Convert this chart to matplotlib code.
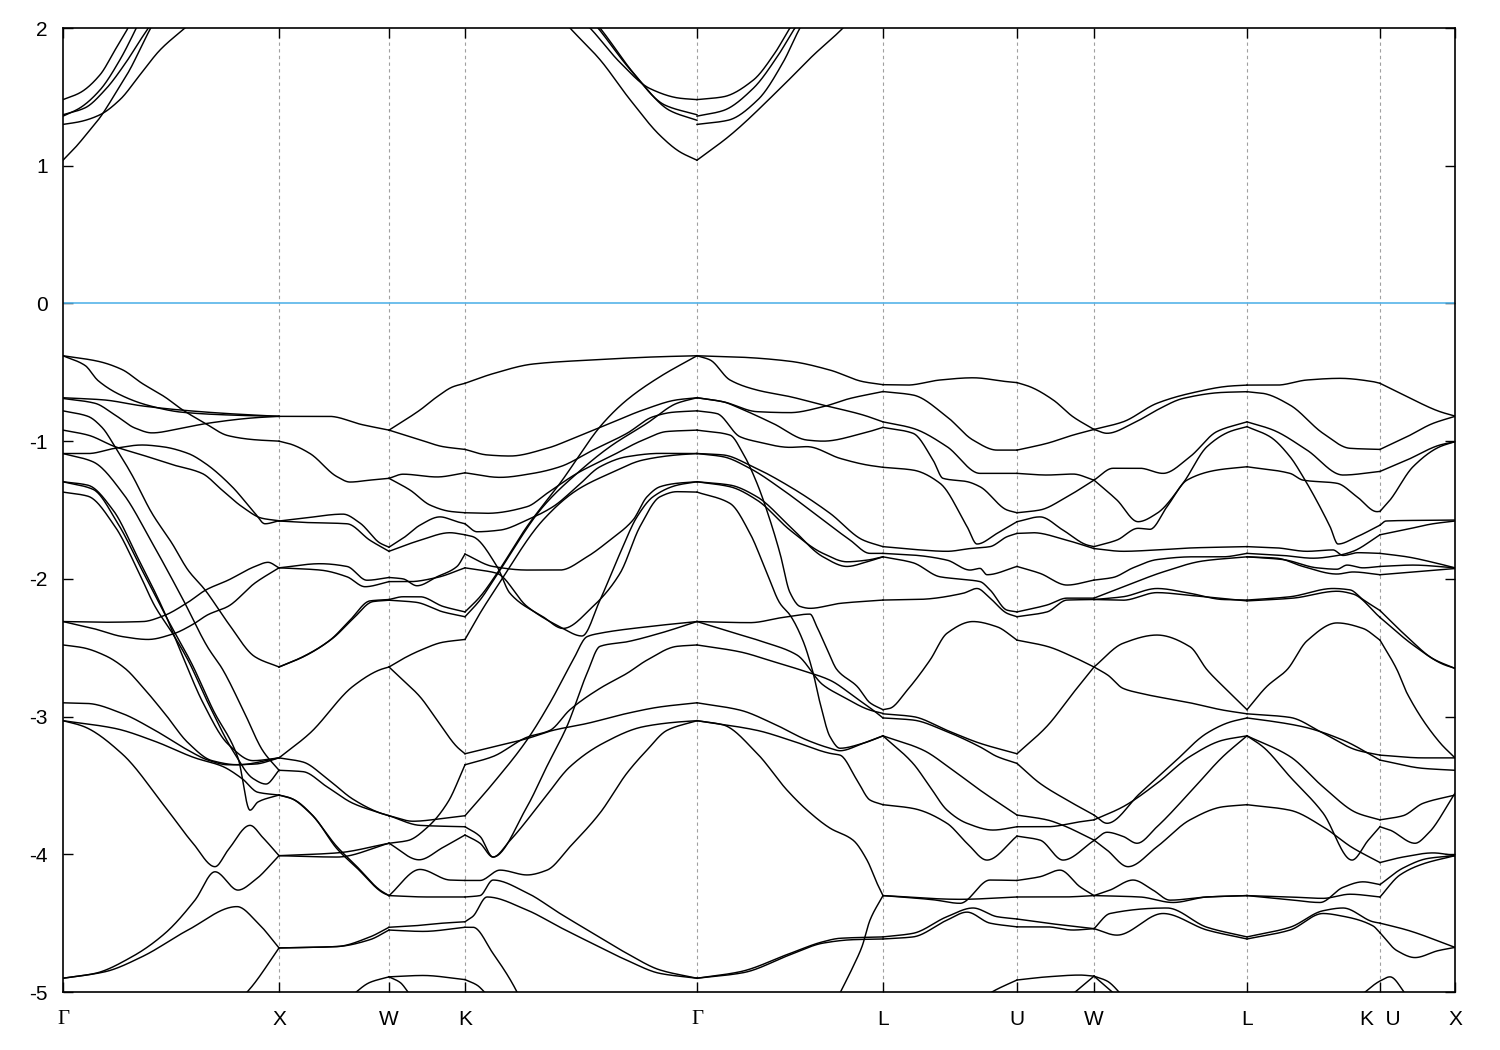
import numpy as np
import matplotlib
matplotlib.use('agg')
import matplotlib.pyplot as plt

# path positions of the high-symmetry points (arbitrary path units)
kpts = [0, 216, 326, 402, 634, 820, 954, 1031, 1184, 1317, 1392]
klabels = ['Γ', 'X', 'W', 'K', 'Γ', 'L', 'U', 'W', 'L', 'K  U', 'X']

# conduction bands (eV), nodes (k, E)
cond = [
    [(0, 1.04), (12, 1.13), (27, 1.26), (37, 1.35), (52, 1.52), (67, 1.70), (82, 1.92), (95, 2.1)],
    [(0, 1.30), (17, 1.32), (37, 1.37), (57, 1.48), (77, 1.66), (97, 1.84), (122, 2.0), (135, 2.08)],
    [(0, 1.36), (17, 1.42), (37, 1.55), (57, 1.77), (72, 1.98), (80, 2.1)],
    [(0, 1.37), (22, 1.42), (42, 1.55), (62, 1.74), (78, 1.92), (90, 2.05)],
    [(0, 1.48), (17, 1.53), (37, 1.66), (52, 1.84), (65, 2.0), (72, 2.1)],
    [(495, 2.1), (507, 2.0), (537, 1.77), (567, 1.48), (597, 1.22), (617, 1.10), (634, 1.04)],
    [(520, 2.05), (527, 2.0), (557, 1.75), (587, 1.56), (617, 1.49), (634, 1.48)],
    [(528, 2.06), (535, 2.0), (567, 1.70), (602, 1.44), (634, 1.37)],
    [(530, 2.06), (537, 2.0), (572, 1.66), (607, 1.40), (634, 1.33)],
    [(634, 1.04), (667, 1.22), (717, 1.56), (750, 1.80), (780, 2.0), (790, 2.08)],
    [(634, 1.30), (665, 1.33), (695, 1.48), (720, 1.75), (737, 2.0), (742, 2.06)],
    [(634, 1.36), (660, 1.40), (690, 1.56), (715, 1.80), (732, 2.0), (738, 2.06)],
    [(634, 1.48), (660, 1.50), (690, 1.62), (712, 1.82), (727, 2.0), (733, 2.06)],
]

# valence bands per path segment (eV), nodes (k, E)
gx = [
    [(0, -0.38), (35, -0.42), (59, -0.48), (79, -0.58), (102, -0.68), (119, -0.77), (142, -0.87), (165, -0.96), (192, -0.99), (216, -1.00)],
    [(0, -0.38), (22, -0.45), (35, -0.56), (59, -0.67), (85, -0.74), (119, -0.79), (165, -0.81), (216, -0.82)],
    [(0, -0.685), (40, -0.70), (80, -0.745), (119, -0.775), (165, -0.80), (216, -0.82)],
    [(0, -0.69), (32, -0.725), (52, -0.81), (72, -0.905), (89, -0.94), (119, -0.905), (145, -0.87), (192, -0.83), (216, -0.82)],
    [(0, -0.92), (25, -0.956), (52, -1.04), (79, -1.10), (109, -1.17), (139, -1.234), (159, -1.355), (179, -1.476), (199, -1.56), (216, -1.578)],
    [(0, -1.09), (25, -1.09), (52, -1.052), (79, -1.028), (99, -1.04), (125, -1.089), (142, -1.16), (169, -1.33), (192, -1.524), (202, -1.60), (216, -1.578)],
    [(0, -0.78), (25, -0.82), (39, -0.90), (52, -1.04), (69, -1.246), (89, -1.524), (109, -1.742), (125, -1.936), (142, -2.08), (165, -2.32), (192, -2.566), (216, -2.64)],
    [(0, -1.09), (30, -1.15), (60, -1.38), (90, -1.75), (120, -2.15), (145, -2.50), (159, -2.65), (180, -2.95), (200, -3.25), (216, -3.39)],
    [(0, -1.295), (30, -1.35), (55, -1.60), (80, -1.95), (105, -2.30), (129, -2.62), (150, -2.95), (175, -3.30), (187, -3.68), (195, -3.62), (216, -3.57)],
    [(0, -1.295), (25, -1.32), (50, -1.50), (75, -1.85), (100, -2.22), (119, -2.55), (140, -2.90), (165, -3.20), (190, -3.32), (216, -3.30)],
    [(0, -1.37), (25, -1.40), (52, -1.62), (75, -1.94), (92, -2.20), (109, -2.39), (125, -2.59), (145, -2.90), (170, -3.25), (190, -3.45), (203, -3.49), (216, -3.39)],
    [(0, -2.31), (40, -2.315), (80, -2.31), (100, -2.27), (125, -2.17), (143, -2.08), (165, -2.01), (192, -1.91), (205, -1.88), (216, -1.92)],
    [(0, -2.31), (30, -2.36), (60, -2.42), (85, -2.44), (110, -2.40), (130, -2.33), (145, -2.26), (165, -2.20), (192, -2.03), (216, -1.92)],
    [(0, -2.48), (20, -2.50), (43, -2.56), (62, -2.65), (79, -2.78), (102, -2.98), (125, -3.19), (149, -3.32), (175, -3.35), (216, -3.30)],
    [(0, -2.90), (25, -2.905), (59, -2.977), (92, -3.10), (125, -3.244), (145, -3.316), (165, -3.35), (192, -3.345), (216, -3.30)],
    [(0, -3.03), (52, -3.086), (92, -3.18), (132, -3.30), (159, -3.36), (179, -3.45), (195, -3.55), (216, -3.57)],
    [(0, -3.03), (20, -3.07), (59, -3.27), (102, -3.655), (130, -3.92), (152, -4.09), (165, -3.97), (187, -3.79), (200, -3.88), (216, -4.01)],
    [(0, -4.90), (32, -4.865), (69, -4.744), (102, -4.574), (132, -4.333), (152, -4.127), (175, -4.26), (192, -4.187), (216, -4.01)],
    [(0, -4.90), (42, -4.853), (79, -4.744), (125, -4.55), (174, -4.38), (195, -4.50), (216, -4.68)],
    [(178, -5.05), (190, -4.95), (216, -4.68)],
]

xw = [
    [(216, -0.82), (266, -0.82), (299, -0.88), (326, -0.92)],
    [(216, -1.00), (227, -1.02), (247, -1.09), (274, -1.258), (287, -1.297), (307, -1.283), (326, -1.27)],
    [(216, -1.58), (240, -1.56), (280, -1.53), (297, -1.595), (317, -1.74), (326, -1.77)],
    [(216, -1.58), (240, -1.59), (284, -1.60), (307, -1.72), (326, -1.80)],
    [(216, -1.92), (257, -1.89), (284, -1.91), (304, -2.01), (326, -1.99)],
    [(216, -1.92), (257, -1.936), (284, -1.985), (302, -2.057), (326, -2.02)],
    [(216, -2.64), (240, -2.565), (267, -2.445), (287, -2.30), (307, -2.16), (326, -2.15)],
    [(216, -2.64), (242, -2.56), (270, -2.43), (290, -2.29), (310, -2.165), (326, -2.155)],
    [(216, -3.30), (247, -3.12), (290, -2.78), (317, -2.66), (326, -2.64)],
    [(216, -3.39), (240, -3.40), (264, -3.51), (290, -3.63), (317, -3.70), (326, -3.72)],
    [(216, -3.30), (240, -3.33), (264, -3.45), (290, -3.60), (317, -3.70), (326, -3.72)],
    [(216, -3.57), (227, -3.59), (247, -3.70), (274, -3.945), (294, -4.09), (317, -4.26), (326, -4.30)],
    [(216, -3.57), (230, -3.60), (250, -3.72), (274, -3.96), (294, -4.10), (320, -4.28), (326, -4.30)],
    [(216, -4.01), (274, -3.99), (326, -3.92)],
    [(216, -4.01), (274, -4.02), (326, -3.92)],
    [(216, -4.68), (274, -4.67), (307, -4.60), (326, -4.53)],
    [(216, -4.68), (274, -4.67), (307, -4.62), (326, -4.55)],
    [(285, -5.05), (307, -4.93), (326, -4.89)],
]

wk = [
    [(326, -0.92), (357, -0.774), (374, -0.678), (390, -0.605), (402, -0.58)],
    [(326, -0.92), (357, -0.99), (380, -1.04), (402, -1.06)],
    [(326, -1.27), (340, -1.24), (374, -1.26), (402, -1.23)],
    [(326, -1.27), (347, -1.355), (367, -1.464), (387, -1.51), (402, -1.52)],
    [(326, -1.77), (341, -1.70), (357, -1.61), (377, -1.55), (394, -1.585), (402, -1.60)],
    [(326, -1.80), (357, -1.72), (387, -1.665), (402, -1.68)],
    [(326, -1.99), (340, -2.00), (354, -2.05), (374, -1.985), (394, -1.91), (402, -1.82)],
    [(326, -2.02), (347, -2.02), (374, -1.99), (402, -1.92)],
    [(326, -2.15), (340, -2.13), (357, -2.13), (380, -2.20), (402, -2.24)],
    [(326, -2.155), (353, -2.17), (380, -2.24), (402, -2.275)],
    [(326, -2.64), (340, -2.58), (357, -2.52), (380, -2.46), (402, -2.44)],
    [(326, -2.64), (340, -2.735), (357, -2.856), (374, -3.025), (394, -3.22), (402, -3.27)],
    [(326, -3.72), (357, -3.79), (402, -3.80)],
    [(326, -3.72), (350, -3.76), (380, -3.74), (402, -3.72)],
    [(326, -3.92), (356, -4.04), (380, -3.95), (402, -3.86)],
    [(326, -3.92), (345, -3.90), (365, -3.80), (385, -3.62), (402, -3.35)],
    [(326, -4.30), (357, -4.11), (387, -4.187), (402, -4.19)],
    [(326, -4.30), (364, -4.31), (402, -4.31)],
    [(326, -4.53), (350, -4.52), (380, -4.50), (402, -4.49)],
    [(326, -4.55), (360, -4.56), (402, -4.53)],
    [(326, -4.89), (360, -4.88), (402, -4.91)],
    [(326, -4.89), (337, -4.93), (347, -5.02)],
]

kg = [
    [(402, -0.58), (430, -0.51), (470, -0.44), (530, -0.41), (597, -0.387), (634, -0.38)],
    [(402, -1.06), (424, -1.10), (447, -1.108), (484, -1.052), (514, -0.968), (547, -0.871), (580, -0.774), (614, -0.70), (634, -0.685)],
    [(402, -1.23), (437, -1.263), (470, -1.234), (497, -1.186), (530, -1.065), (564, -0.943), (590, -0.823), (610, -0.79), (634, -0.78)],
    [(402, -1.52), (424, -1.524), (464, -1.476), (484, -1.379), (514, -1.234), (547, -1.113), (580, -0.992), (604, -0.93), (634, -0.92)],
    [(402, -1.60), (414, -1.658), (437, -1.646), (464, -1.573), (490, -1.476), (514, -1.331), (537, -1.186), (564, -1.113), (597, -1.089), (634, -1.09)],
    [(402, -1.82), (430, -1.91), (464, -1.936), (497, -1.936), (524, -1.84), (547, -1.718), (570, -1.573), (584, -1.404), (597, -1.331), (614, -1.306), (634, -1.295)],
    [(402, -2.24), (417, -2.13), (434, -1.96), (464, -1.62), (497, -1.306), (540, -0.87), (564, -0.70), (597, -0.532), (634, -0.38)],
    [(402, -2.275), (417, -2.154), (434, -1.97), (480, -1.476), (514, -1.234), (547, -1.04), (584, -0.87), (614, -0.725), (634, -0.685)],
    [(402, -2.44), (417, -2.25), (434, -2.057), (480, -1.573), (514, -1.355), (547, -1.234), (580, -1.137), (614, -1.10), (634, -1.09)],
    [(402, -1.68), (410, -1.694), (434, -1.91), (447, -2.105), (480, -2.275), (500, -2.36), (530, -2.20), (557, -1.96), (577, -1.62), (597, -1.404), (614, -1.367), (634, -1.37)],
    [(402, -1.92), (417, -1.936), (434, -1.96), (464, -2.20), (497, -2.348), (519, -2.415), (537, -2.154), (557, -1.815), (574, -1.55), (590, -1.404), (614, -1.32), (634, -1.295)],
    [(402, -3.72), (430, -3.485), (464, -3.17), (487, -2.90), (510, -2.59), (524, -2.42), (537, -2.395), (584, -2.348), (634, -2.31)],
    [(402, -3.80), (417, -3.87), (430, -4.02), (464, -3.655), (484, -3.36), (504, -3.07), (524, -2.686), (537, -2.49), (564, -2.457), (597, -2.395), (634, -2.31)],
    [(402, -3.86), (417, -3.92), (430, -4.02), (447, -3.90), (480, -3.606), (507, -3.364), (540, -3.194), (580, -3.074), (614, -3.04), (634, -3.03)],
    [(402, -4.19), (417, -4.19), (437, -4.115), (464, -4.15), (484, -4.115), (507, -3.945), (537, -3.70), (564, -3.41), (584, -3.243), (604, -3.10), (634, -3.03)],
    [(402, -4.31), (417, -4.30), (430, -4.187), (464, -4.28), (497, -4.43), (530, -4.574), (564, -4.72), (597, -4.84), (634, -4.90)],
    [(402, -4.49), (410, -4.45), (424, -4.31), (464, -4.405), (497, -4.53), (530, -4.65), (564, -4.77), (597, -4.865), (634, -4.90)],
    [(402, -4.53), (410, -4.53), (430, -4.72), (454, -5.0), (460, -5.1)],
    [(402, -4.91), (414, -4.95), (424, -5.02)],
    [(402, -3.27), (430, -3.22), (464, -3.16), (490, -3.10), (524, -3.05), (564, -2.977), (597, -2.93), (634, -2.90)],
    [(402, -3.35), (430, -3.29), (464, -3.15), (487, -3.10), (507, -2.95), (537, -2.795), (564, -2.686), (584, -2.59), (614, -2.49), (634, -2.48)],
]

gl = [
    [(634, -0.38), (677, -0.39), (727, -0.42), (767, -0.484), (800, -0.568), (820, -0.59)],
    [(634, -0.38), (647, -0.41), (667, -0.556), (694, -0.629), (727, -0.677), (760, -0.738), (800, -0.81), (820, -0.86)],
    [(634, -0.685), (660, -0.714), (694, -0.786), (727, -0.793), (760, -0.75), (787, -0.69), (820, -0.64)],
    [(634, -0.685), (660, -0.714), (677, -0.762), (710, -0.871), (744, -0.992), (760, -1.00), (800, -0.943), (820, -0.90)],
    [(634, -0.78), (654, -0.80), (677, -0.968), (694, -1.004), (727, -1.045), (744, -1.04), (777, -1.125), (804, -1.173), (820, -1.19)],
    [(634, -1.09), (660, -1.10), (690, -1.186), (727, -1.331), (767, -1.524), (800, -1.718), (820, -1.766)],
    [(634, -1.09), (660, -1.113), (687, -1.198), (720, -1.355), (760, -1.573), (787, -1.718), (807, -1.815), (820, -1.815)],
    [(634, -1.295), (667, -1.331), (694, -1.428), (727, -1.646), (760, -1.815), (784, -1.876), (804, -1.864), (820, -1.84)],
    [(634, -1.295), (667, -1.319), (694, -1.404), (727, -1.62), (760, -1.84), (784, -1.91), (804, -1.876), (820, -1.84)],
    [(634, -0.92), (667, -0.956), (680, -1.089), (694, -1.306), (707, -1.573), (717, -1.815), (727, -2.10), (737, -2.20), (747, -2.214), (777, -2.178), (820, -2.154)],
    [(634, -1.37), (667, -1.452), (687, -1.67), (704, -1.96), (717, -2.178), (727, -2.263), (740, -2.45), (750, -2.68), (757, -2.90), (767, -3.146), (777, -3.23), (800, -3.194), (820, -3.14)],
    [(634, -2.31), (687, -2.318), (720, -2.28), (747, -2.256), (754, -2.35), (764, -2.51), (774, -2.66), (794, -2.78), (807, -2.90), (820, -2.95)],
    [(634, -2.31), (667, -2.384), (700, -2.457), (734, -2.553), (760, -2.77), (780, -2.856), (807, -2.953), (820, -2.977)],
    [(634, -2.48), (677, -2.53), (710, -2.60), (737, -2.66), (767, -2.736), (794, -2.87), (810, -2.953), (820, -3.01)],
    [(634, -2.90), (677, -2.953), (710, -3.05), (744, -3.171), (767, -3.23), (777, -3.248), (800, -3.194), (820, -3.14)],
    [(634, -3.03), (694, -3.10), (727, -3.171), (767, -3.267), (777, -3.28), (794, -3.461), (807, -3.606), (820, -3.64)],
    [(634, -3.03), (660, -3.06), (694, -3.267), (724, -3.534), (744, -3.679), (767, -3.81), (790, -3.897), (804, -4.042), (814, -4.21), (820, -4.30)],
    [(634, -4.90), (677, -4.853), (727, -4.72), (760, -4.635), (777, -4.61), (820, -4.60)],
    [(634, -4.90), (680, -4.86), (727, -4.73), (760, -4.645), (790, -4.62), (820, -4.615)],
    [(774, -5.05), (790, -4.817), (799, -4.67), (807, -4.478), (820, -4.30)],
]

lu = [
    [(820, -0.59), (844, -0.593), (877, -0.556), (910, -0.54), (944, -0.568), (954, -0.575)],
    [(820, -0.64), (850, -0.665), (884, -0.823), (910, -0.992), (934, -1.065), (954, -1.065)],
    [(820, -0.86), (850, -0.907), (884, -1.04), (917, -1.234), (954, -1.234)],
    [(820, -0.90), (850, -0.943), (870, -1.137), (880, -1.27), (904, -1.294), (917, -1.331), (944, -1.50), (954, -1.52)],
    [(820, -1.19), (850, -1.21), (877, -1.306), (904, -1.62), (914, -1.747), (934, -1.67), (954, -1.585)],
    [(820, -1.766), (850, -1.786), (884, -1.80), (907, -1.78), (927, -1.766), (944, -1.694), (954, -1.67)],
    [(820, -1.815), (850, -1.827), (884, -1.864), (907, -1.936), (917, -1.924), (924, -1.97), (954, -1.91)],
    [(820, -1.84), (850, -1.883), (877, -1.985), (900, -2.004), (917, -2.02), (927, -2.08), (944, -2.227), (954, -2.24)],
    [(820, -2.154), (857, -2.149), (900, -2.105), (914, -2.07), (927, -2.14), (944, -2.25), (954, -2.275)],
    [(820, -2.95), (827, -2.94), (844, -2.81), (867, -2.59), (884, -2.395), (910, -2.31), (934, -2.348), (954, -2.445)],
    [(820, -2.98), (850, -3.00), (884, -3.10), (917, -3.194), (954, -3.27)],
    [(820, -3.01), (850, -3.025), (884, -3.11), (917, -3.22), (934, -3.29), (954, -3.34)],
    [(820, -3.14), (860, -3.243), (890, -3.39), (917, -3.534), (954, -3.715)],
    [(820, -3.14), (850, -3.34), (867, -3.51), (884, -3.679), (904, -3.775), (930, -3.824), (954, -3.80)],
    [(820, -3.64), (850, -3.667), (884, -3.775), (904, -3.92), (924, -4.042), (954, -3.868)],
    [(820, -4.30), (897, -4.327), (954, -4.31)],
    [(820, -4.30), (870, -4.33), (897, -4.356), (927, -4.187), (954, -4.19)],
    [(820, -4.60), (850, -4.574), (884, -4.453), (910, -4.39), (934, -4.453), (954, -4.47)],
    [(820, -4.615), (850, -4.60), (884, -4.478), (904, -4.42), (927, -4.50), (954, -4.527)],
    [(917, -5.05), (934, -4.98), (954, -4.913)],
]

uw = [
    [(954, -0.575), (967, -0.605), (990, -0.70), (1010, -0.823), (1031, -0.915)],
    [(954, -1.065), (984, -1.016), (1010, -0.956), (1031, -0.915)],
    [(954, -1.234), (984, -1.246), (1010, -1.239), (1031, -1.283)],
    [(954, -1.52), (977, -1.50), (1004, -1.404), (1031, -1.283)],
    [(954, -1.585), (977, -1.55), (1000, -1.646), (1024, -1.754), (1031, -1.766)],
    [(954, -1.67), (970, -1.665), (1004, -1.72), (1031, -1.78)],
    [(954, -1.91), (977, -1.96), (1004, -2.045), (1031, -2.009)],
    [(954, -2.24), (984, -2.19), (1004, -2.14), (1031, -2.14)],
    [(954, -2.275), (984, -2.24), (1004, -2.154), (1031, -2.15)],
    [(954, -2.445), (984, -2.49), (1010, -2.566), (1031, -2.64)],
    [(954, -3.27), (984, -3.07), (1010, -2.83), (1031, -2.64)],
    [(954, -3.34), (977, -3.485), (1004, -3.606), (1031, -3.715)],
    [(954, -3.715), (984, -3.75), (1000, -3.79), (1031, -3.897)],
    [(954, -3.80), (984, -3.80), (1017, -3.764), (1031, -3.75)],
    [(954, -3.868), (977, -3.897), (1000, -4.042), (1031, -3.90)],
    [(954, -4.31), (1000, -4.31), (1031, -4.30)],
    [(954, -4.19), (977, -4.163), (997, -4.115), (1017, -4.236), (1031, -4.30)],
    [(954, -4.47), (984, -4.50), (1031, -4.54)],
    [(954, -4.527), (984, -4.527), (1010, -4.55), (1031, -4.54)],
    [(954, -4.913), (984, -4.89), (1017, -4.877), (1031, -4.885)],
    [(1004, -5.05), (1017, -4.97), (1031, -4.885)],
]

wl = [
    [(1031, -0.915), (1060, -0.86), (1094, -0.725), (1127, -0.653), (1167, -0.60), (1184, -0.593)],
    [(1031, -0.915), (1044, -0.943), (1070, -0.871), (1094, -0.774), (1120, -0.69), (1160, -0.646), (1184, -0.641)],
    [(1031, -1.283), (1050, -1.197), (1077, -1.197), (1100, -1.234), (1127, -1.113), (1154, -0.93), (1184, -0.86)],
    [(1031, -1.283), (1054, -1.428), (1075, -1.585), (1094, -1.524), (1120, -1.306), (1144, -1.04), (1167, -0.93), (1184, -0.895)],
    [(1031, -1.766), (1054, -1.718), (1075, -1.633), (1087, -1.64), (1104, -1.476), (1124, -1.283), (1154, -1.21), (1184, -1.186)],
    [(1031, -1.78), (1060, -1.80), (1094, -1.79), (1130, -1.775), (1184, -1.766)],
    [(1031, -2.009), (1050, -1.99), (1070, -1.92), (1094, -1.86), (1130, -1.84), (1160, -1.84), (1184, -1.815)],
    [(1031, -2.14), (1070, -2.03), (1100, -1.95), (1140, -1.87), (1184, -1.84)],
    [(1031, -2.15), (1060, -2.13), (1094, -2.07), (1127, -2.105), (1160, -2.15), (1184, -2.154)],
    [(1031, -2.15), (1060, -2.155), (1094, -2.10), (1127, -2.12), (1184, -2.16)],
    [(1031, -2.64), (1060, -2.468), (1094, -2.408), (1127, -2.493), (1144, -2.66), (1160, -2.78), (1184, -2.95)],
    [(1031, -2.64), (1045, -2.70), (1060, -2.795), (1077, -2.83), (1127, -2.90), (1160, -2.953), (1184, -2.98)],
    [(1031, -3.715), (1044, -3.775), (1077, -3.557), (1110, -3.34), (1144, -3.12), (1167, -3.04), (1184, -3.01)],
    [(1031, -3.75), (1060, -3.655), (1094, -3.485), (1127, -3.29), (1160, -3.171), (1184, -3.14)],
    [(1031, -3.90), (1044, -3.84), (1060, -3.87), (1074, -3.92), (1094, -3.80), (1127, -3.55), (1160, -3.29), (1184, -3.14)],
    [(1031, -3.897), (1044, -3.969), (1065, -4.09), (1094, -3.945), (1127, -3.75), (1160, -3.655), (1184, -3.64)],
    [(1031, -4.30), (1047, -4.26), (1070, -4.187), (1090, -4.26), (1107, -4.333), (1144, -4.31), (1184, -4.30)],
    [(1031, -4.30), (1077, -4.31), (1110, -4.35), (1144, -4.31), (1184, -4.30)],
    [(1031, -4.54), (1047, -4.43), (1104, -4.39), (1144, -4.53), (1184, -4.60)],
    [(1031, -4.54), (1054, -4.587), (1100, -4.43), (1144, -4.55), (1184, -4.615)],
    [(1031, -4.885), (1044, -4.92), (1060, -5.03)],
    [(1031, -4.885), (1054, -5.03)],
]

lk = [
    [(1184, -0.593), (1214, -0.593), (1244, -0.556), (1277, -0.544), (1310, -0.568), (1317, -0.58)],
    [(1184, -0.641), (1200, -0.653), (1227, -0.738), (1260, -0.943), (1287, -1.052), (1317, -1.06)],
    [(1184, -0.86), (1210, -0.919), (1244, -1.065), (1280, -1.246), (1317, -1.22)],
    [(1184, -0.895), (1207, -0.968), (1227, -1.113), (1240, -1.258), (1267, -1.62), (1275, -1.747), (1294, -1.694), (1317, -1.61)],
    [(1184, -1.186), (1227, -1.234), (1240, -1.283), (1274, -1.306), (1294, -1.404), (1314, -1.512), (1317, -1.51)],
    [(1184, -1.766), (1214, -1.775), (1244, -1.80), (1270, -1.79), (1280, -1.83), (1295, -1.81), (1317, -1.815)],
    [(1184, -1.815), (1220, -1.83), (1250, -1.85), (1275, -1.83), (1290, -1.80), (1317, -1.68)],
    [(1184, -1.84), (1220, -1.86), (1254, -1.92), (1274, -1.93), (1284, -1.90), (1300, -1.92), (1317, -1.91)],
    [(1184, -1.84), (1214, -1.85), (1240, -1.91), (1274, -1.965), (1290, -1.95), (1317, -1.97)],
    [(1184, -2.154), (1227, -2.13), (1270, -2.07), (1287, -2.08), (1300, -2.15), (1317, -2.23)],
    [(1184, -2.16), (1230, -2.14), (1274, -2.09), (1290, -2.11), (1317, -2.28)],
    [(1184, -2.95), (1204, -2.78), (1224, -2.66), (1244, -2.45), (1274, -2.32), (1300, -2.36), (1317, -2.445)],
    [(1184, -2.98), (1227, -3.006), (1260, -3.12), (1294, -3.244), (1317, -3.28)],
    [(1184, -3.01), (1200, -3.025), (1240, -3.074), (1280, -3.171), (1317, -3.316)],
    [(1184, -3.14), (1200, -3.22), (1227, -3.437), (1260, -3.70), (1289, -4.042), (1305, -3.90), (1317, -3.80)],
    [(1184, -3.14), (1227, -3.29), (1260, -3.51), (1294, -3.70), (1317, -3.75)],
    [(1184, -3.64), (1227, -3.68), (1260, -3.80), (1289, -3.95), (1317, -4.06)],
    [(1184, -4.30), (1227, -4.31), (1260, -4.32), (1287, -4.29), (1317, -4.31)],
    [(1184, -4.30), (1227, -4.33), (1257, -4.35), (1280, -4.24), (1300, -4.20), (1317, -4.22)],
    [(1184, -4.60), (1227, -4.53), (1260, -4.41), (1280, -4.39), (1310, -4.49), (1317, -4.50)],
    [(1184, -4.615), (1227, -4.55), (1260, -4.43), (1280, -4.45), (1310, -4.52), (1317, -4.57)],
    [(1297, -5.03), (1317, -4.92), (1327, -4.89), (1344, -5.03)],
]

ux = [
    [(1317, -0.58), (1344, -0.677), (1377, -0.786), (1392, -0.818)],
    [(1317, -1.06), (1344, -0.968), (1370, -0.871), (1392, -0.82)],
    [(1317, -1.22), (1344, -1.137), (1377, -1.028), (1392, -1.004)],
    [(1317, -1.51), (1327, -1.428), (1350, -1.186), (1377, -1.04), (1392, -1.004)],
    [(1317, -1.61), (1323, -1.58), (1360, -1.575), (1392, -1.573)],
    [(1317, -1.68), (1344, -1.64), (1370, -1.60), (1392, -1.58)],
    [(1317, -1.815), (1344, -1.84), (1370, -1.88), (1392, -1.92)],
    [(1317, -1.91), (1350, -1.90), (1392, -1.92)],
    [(1317, -1.97), (1350, -1.95), (1392, -1.925)],
    [(1317, -2.23), (1344, -2.42), (1370, -2.58), (1392, -2.65)],
    [(1317, -2.28), (1350, -2.48), (1380, -2.62), (1392, -2.65)],
    [(1317, -2.445), (1334, -2.66), (1344, -2.83), (1377, -3.19), (1392, -3.30)],
    [(1317, -3.28), (1360, -3.30), (1392, -3.30)],
    [(1317, -3.316), (1360, -3.376), (1392, -3.39)],
    [(1317, -3.80), (1327, -3.824), (1352, -3.92), (1365, -3.85), (1392, -3.557)],
    [(1317, -3.75), (1340, -3.72), (1360, -3.63), (1392, -3.57)],
    [(1317, -4.06), (1340, -4.02), (1370, -3.99), (1392, -4.01)],
    [(1317, -4.31), (1337, -4.15), (1360, -4.07), (1392, -4.01)],
    [(1317, -4.22), (1340, -4.10), (1365, -4.03), (1392, -4.01)],
    [(1317, -4.50), (1344, -4.55), (1392, -4.676)],
    [(1317, -4.57), (1334, -4.70), (1352, -4.75), (1375, -4.70), (1392, -4.676)],
]


def pchip(x, y, xn):
    # monotone cubic through the read nodes, only used to draw smooth lines
    x = np.asarray(x, float)
    y = np.asarray(y, float)
    h = np.diff(x)
    d = np.diff(y) / h
    n = len(x)
    m = np.zeros(n)
    if n == 2:
        m[:] = d[0]
    else:
        for i in range(1, n - 1):
            if d[i - 1] * d[i] > 0:
                w1 = 2 * h[i] + h[i - 1]
                w2 = h[i] + 2 * h[i - 1]
                m[i] = (w1 + w2) / (w1 / d[i - 1] + w2 / d[i])
        m[0] = d[0]
        m[-1] = d[-1]
    idx = np.clip(np.searchsorted(x, xn) - 1, 0, n - 2)
    t = (xn - x[idx]) / h[idx]
    h00 = 2 * t**3 - 3 * t**2 + 1
    h10 = t**3 - 2 * t**2 + t
    h01 = -2 * t**3 + 3 * t**2
    h11 = t**3 - t**2
    return h00 * y[idx] + h10 * h[idx] * m[idx] + h01 * y[idx + 1] + h11 * h[idx] * m[idx + 1]


fig = plt.figure(figsize=(15, 10.5), dpi=100)
ax = fig.add_axes([63 / 1500, 58 / 1050, 1392 / 1500, 964 / 1050])

for k in kpts[1:-1]:
    ax.axvline(k, color='#a0a0a0', lw=0.8, ls=(0, (3, 3)), zorder=1)
ax.axhline(0, color='#56b4e9', lw=1.2, zorder=2)

for seg in [cond, gx, xw, wk, kg, gl, lu, uw, wl, lk, ux]:
    for band in seg:
        kk = [p[0] for p in band]
        ee = [p[1] for p in band]
        xs = np.linspace(kk[0], kk[-1], 200)
        ax.plot(xs, pchip(kk, ee, xs), color='black', lw=1.05, zorder=3)

ax.set_xlim(0, 1392)
ax.set_ylim(-5, 2)
ax.set_yticks(range(-5, 3))
ax.set_yticklabels([str(v) for v in range(-5, 3)])
ax.set_xticks(kpts)
ax.set_xticklabels(klabels)
for lab in ax.get_xticklabels():
    lab.set_fontfamily('Liberation Serif' if lab.get_text() == 'Γ' else 'Liberation Sans')
for lab in ax.get_yticklabels():
    lab.set_fontfamily('Liberation Sans')
ax.tick_params(axis='y', direction='in', length=7, width=1, right=True, labelsize=15, pad=11)
ax.tick_params(axis='x', direction='in', length=7, width=1, top=True, labelsize=15, pad=13)
for s in ax.spines.values():
    s.set_linewidth(1.2)

fig.savefig('out.png', dpi=100)
